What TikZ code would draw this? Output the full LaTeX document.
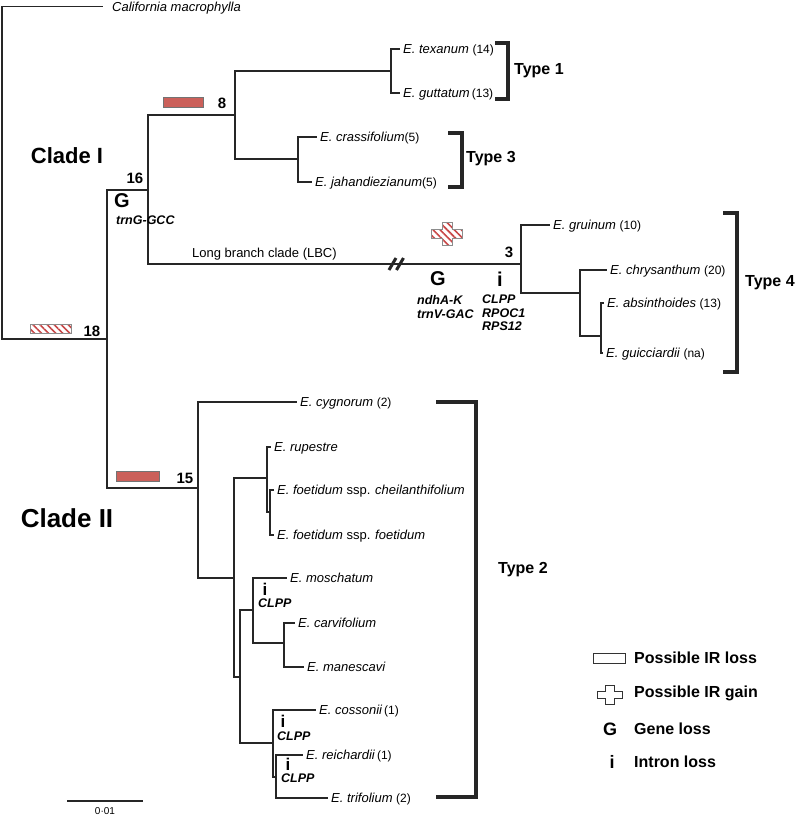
\documentclass[tikz,border=0pt]{standalone}
\usepackage{fontspec}
\setmainfont{Liberation Sans}
\usetikzlibrary{patterns.meta}

\definecolor{irred}{RGB}{203,96,90}
\definecolor{hatchred}{RGB}{200,72,72}
\newcommand{\cnt}[1]{{\upshape\fontsize{12}{12}\selectfont(#1)}}

\tikzset{irgain/.pic={
  \path[pic actions] (-5,-11.5) -- (5,-11.5) -- (5,-4.5) -- (15.5,-4.5) -- (15.5,4.5) -- (5,4.5)
    -- (5,11.5) -- (-5,11.5) -- (-5,4.5) -- (-15.5,4.5) -- (-15.5,-4.5) -- (-5,-4.5) -- cycle;}}

\begin{document}
\begin{tikzpicture}[x=1pt, y=-1pt,
    branch/.style={line width=1.2pt, black!85},
    taxon/.style={anchor=west, inner xsep=3pt, inner ysep=0pt, text height=9.3pt, text depth=0pt,
      font=\fontsize{13}{13}\selectfont\itshape},
    bracket/.style={line width=4pt, black!85},
    typelab/.style={anchor=west, inner sep=0pt, font=\fontsize{16}{16}\selectfont\bfseries},
    support/.style={inner sep=0pt, font=\fontsize{15}{15}\selectfont\bfseries},
    gene/.style={anchor=west, inner sep=0pt, align=left, font=\fontsize{12.5}{13.5}\selectfont\bfseries\itshape},
    loss/.style={inner sep=0pt, font=\fontsize{20}{20}\selectfont\bfseries},
    smallloss/.style={inner sep=0pt, text height=12pt, text depth=0pt, font=\fontsize{17}{17}\selectfont\bfseries},
    cladelab/.style={inner sep=0pt, font=\fontsize{22}{22}\selectfont\bfseries},
    irloss/.style={fill=irred, draw=black!55, line width=0.6pt},
    irhatch/.style={draw=black!45, line width=0.6pt, pattern={Lines[angle=-45,distance=5pt,line width=1.6pt]},
      pattern color=hatchred}]
  \useasboundingbox (0,0) rectangle (799,815);

  % internal nodes
  \coordinate (root) at (2,172);
  \coordinate (n18) at (107,339);
  \coordinate (n16) at (148,190);
  \coordinate (n8) at (235,115);
  \coordinate (n8a) at (391,71);
  \coordinate (n8b) at (298,159);
  \coordinate (n3) at (521,264);
  \coordinate (n3b) at (580,293);
  \coordinate (n3c) at (601,336);
  \coordinate (n15) at (198,488);
  \coordinate (nB) at (234,578);
  \coordinate (nC) at (267,478);
  \coordinate (nE) at (270,512);
  \coordinate (nD) at (240,677);
  \coordinate (nF) at (253,610);
  \coordinate (nH) at (284,643);
  \coordinate (nG) at (273,743);
  \coordinate (nI) at (276,777);

  % taxa
  \node[taxon, inner xsep=9pt] (calif) at (103,6.5) {California macrophylla};
  \node[taxon] (texa) at (400,49) {E. texanum \cnt{14}};
  \node[taxon] (gutt) at (400,93) {E. guttatum\,\cnt{13}};
  \node[taxon] (crass) at (317,137) {E. crassifolium\cnt{5}};
  \node[taxon] (jahan) at (312,182) {E. jahandiezianum\cnt{5}};
  \node[taxon] (grui) at (550,225) {E. gruinum \cnt{10}};
  \node[taxon] (chrys) at (607,270) {E. chrysanthum \cnt{20}};
  \node[taxon] (absin) at (604,303) {E. absinthoides \cnt{13}};
  \node[taxon] (guicc) at (603,353) {E. guicciardii \cnt{na}};
  \node[taxon] (cygn) at (297,402) {E. cygnorum \cnt{2}};
  \node[taxon] (rupe) at (271,447) {E. rupestre};
  \node[taxon] (cheil) at (274,490) {E. foetidum {\upshape ssp.} cheilanthifolium};
  \node[taxon] (foet) at (274,535) {E. foetidum {\upshape ssp.} foetidum};
  \node[taxon] (mosch) at (287,578) {E. moschatum};
  \node[taxon] (carvi) at (295,623) {E. carvifolium};
  \node[taxon] (manes) at (304,667) {E. manescavi};
  \node[taxon] (cosso) at (316,710) {E. cossonii\,\cnt{1}};
  \node[taxon] (reich) at (303,755) {E. reichardii\,\cnt{1}};
  \node[taxon] (trifo) at (328,798) {E. trifolium \cnt{2}};

  % branches
  \draw[branch] (root) |- (calif.west) (root) |- (n18);
  \draw[branch] (n18) |- (n16) (n18) |- (n15);
  \draw[branch] (n16) |- (n8) (n16) |- (n3);
  \draw[branch] (n8) |- (n8a) (n8) |- (n8b);
  \draw[branch] (n8a) |- (texa.west) (n8a) |- (gutt.west);
  \draw[branch] (n8b) |- (crass.west) (n8b) |- (jahan.west);
  \draw[branch] (n3) |- (grui.west) (n3) |- (n3b);
  \draw[branch] (n3b) |- (chrys.west) (n3b) |- (n3c);
  \draw[branch] (n3c) |- (absin.west) (n3c) |- (guicc.west);
  \draw[branch] (n15) |- (cygn.west) (n15) |- (nB);
  \draw[branch] (nB) |- (nC) (nB) |- (nD);
  \draw[branch] (nC) |- (rupe.west) (nC) |- (nE);
  \draw[branch] (nE) |- (cheil.west) (nE) |- (foet.west);
  \draw[branch] (nD) |- (nF) (nD) |- (nG);
  \draw[branch] (nF) |- (mosch.west) (nF) |- (nH);
  \draw[branch] (nH) |- (carvi.west) (nH) |- (manes.west);
  \draw[branch] (nG) |- (cosso.west) (nG) |- (nI);
  \draw[branch] (nI) |- (reich.west) (nI) |- (trifo.west);

  % long branch break
  \draw[line width=3pt, black!85] (389,270) -- (396,258) (396.5,270) -- (403.5,258);
  \node[anchor=base west, inner sep=0pt, font=\fontsize{13}{13}\selectfont] (lbc) at (192,257) {Long branch clade (LBC)};

  % support values and IR events
  \node[support] (s8) at (222,103) {8};
  \node[support] (s16) at (135,178) {16};
  \node[support] (s18) at (92,331) {18};
  \node[support] (s15) at (185,478) {15};
  \node[support] (s3) at (509,252) {3};
  \draw[irloss] (163,97) rectangle (203,107);
  \draw[irloss] (116,471) rectangle (159,481);
  \draw[irhatch] (30,324) rectangle (71,333);
  \pic[irhatch] at (447,234) {irgain};

  % gene and intron losses
  \node[loss] (gI) at (122,201) {G};
  \node[gene] (gIt) at (116,220) {trnG-GCC};
  \node[loss] (gL) at (438,279) {G};
  \node[gene] (gLt) at (417,307) {ndhA-K\\trnV-GAC};
  \node[loss] (iL) at (500,279) {i};
  \node[gene] (iLt) at (482,313) {CLPP\\RPOC1\\RPS12};
  \node[smallloss] (i1) at (265,589) {i};
  \node[gene] (i1t) at (258,603.5) {CLPP};
  \node[smallloss] (i2) at (283,721) {i};
  \node[gene] (i2t) at (277,736) {CLPP};
  \node[smallloss] (i3) at (288,764) {i};
  \node[gene] (i3t) at (281,778.5) {CLPP};

  % clades
  \node[cladelab] (cI) at (67,156) {Clade I};
  \node[cladelab, font=\fontsize{26}{26}\selectfont\bfseries] (cII) at (67,518) {Clade II};

  % types
  \draw[bracket] (495,43) -| (508,99) -- (495,99);
  \node[typelab] (t1) at (514,71) {Type 1};
  \draw[bracket] (448,133) -| (462,187) -- (448,187);
  \node[typelab] (t3) at (466,159) {Type 3};
  \draw[bracket] (723,213) -| (737,372) -- (723,372);
  \node[typelab] (t4) at (745,283) {Type 4};
  \draw[bracket] (436,402) -| (476,797) -- (436,797);
  \node[typelab] (t2) at (498,570) {Type 2};

  % legend
  \draw[fill=white, draw=black!80, line width=1pt] (593,653) rectangle (625,663);
  \node[typelab] (l1) at (634,658) {Possible IR loss};
  \pic[draw=black!80, line width=1pt, scale=0.82] at (610,695) {irgain};
  \node[typelab] (l2) at (634,693) {Possible IR gain};
  \node[loss, font=\fontsize{18}{18}\selectfont\bfseries] (lg) at (610,729) {G};
  \node[typelab] (l3) at (634,729) {Gene loss};
  \node[loss, font=\fontsize{18}{18}\selectfont\bfseries] (li) at (612,762) {i};
  \node[typelab] (l4) at (634,762) {Intron loss};

  % scale bar
  \coordinate (sbl) at (67,801);
  \coordinate (sbr) at (143,801);
  \draw[branch] (sbl) -- (sbr);
  \node[inner sep=0pt, font=\fontsize{10}{10}\selectfont] (sbt) at (105,811) {0·01};
\end{tikzpicture}
\end{document}
